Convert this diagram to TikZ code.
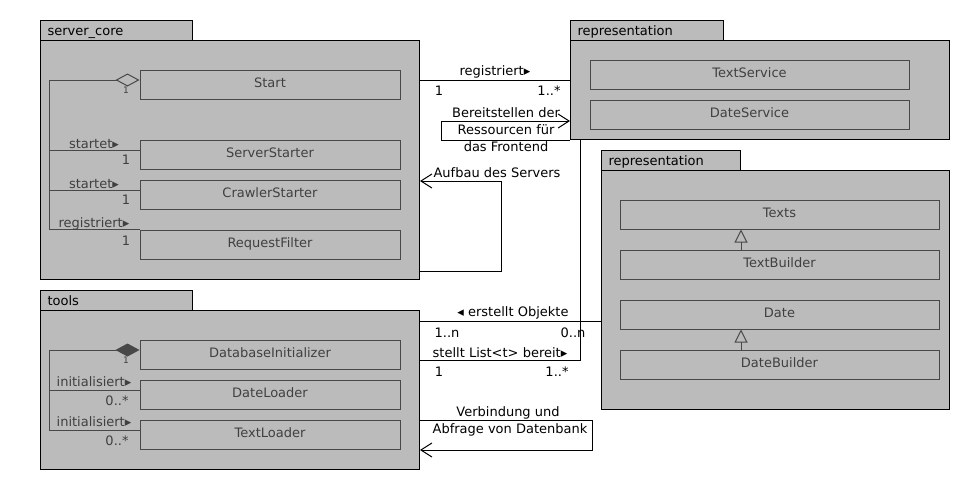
\documentclass[tikz,border=0pt]{standalone}
\usepackage{fontspec}
\setmainfont{DejaVu Sans}
\usetikzlibrary{arrows.meta,calc}
\definecolor{pkgfill}{RGB}{187,187,187}
\definecolor{inline}{RGB}{72,72,72}
\definecolor{clstext}{RGB}{64,64,64}
\newcommand{\dfont}{\fontsize{13}{17}\selectfont}
\tikzset{
  lbl/.style={font=\dfont, inner sep=0pt, text=black},
  glbl/.style={font=\dfont, inner sep=0pt, text=clstext},
  pkgbody/.style={draw=black, fill=pkgfill, line width=1pt, anchor=north west, inner sep=0pt},
  pkgtab/.style={draw=black, fill=pkgfill, line width=1pt, anchor=north west, inner xsep=7pt,
    inner ysep=0pt, minimum height=20pt, text height=15pt, text depth=5pt, align=left,
    font=\dfont, text=black},
  cls/.style={draw=inline, fill=pkgfill, line width=1pt, minimum height=29pt, inner sep=0pt,
    text height=9.5pt, text depth=3pt, text=clstext, font=\dfont},
  conn/.style={draw=black, line width=1pt},
  inconn/.style={draw=inline, line width=1pt},
  openarr/.style={-{Straight Barb[length=11pt,width=14pt]}},
}
\begin{document}
\begin{tikzpicture}[x=1pt, y=-1pt]
\useasboundingbox (0,0) rectangle (970,490);

% ---------- packages ----------
\node[pkgtab, text width=138pt] (sctab) at (40,20) {server\_core};
\node[pkgbody, minimum width=379pt, minimum height=239pt] (scbody) at (40,40) {};

\node[pkgtab, text width=139pt] (repAtab) at (570,20) {representation};
\node[pkgbody, minimum width=379pt, minimum height=99pt] (repAbody) at (570,40) {};

\node[pkgtab, text width=125pt] (repBtab) at (601,150) {representation};
\node[pkgbody, minimum width=348pt, minimum height=239pt] (repBbody) at (601,170) {};

\node[pkgtab, text width=138pt] (tooltab) at (40,290) {tools};
\node[pkgbody, minimum width=379pt, minimum height=159pt] (toolsbody) at (40,310) {};

% ---------- classes ----------
\node[cls, minimum width=260pt] (Start) at (270,84.5) {Start};
\node[cls, minimum width=260pt] (ServerStarter) at (270,154.5) {ServerStarter};
\node[cls, minimum width=260pt] (CrawlerStarter) at (270,194.5) {CrawlerStarter};
\node[cls, minimum width=260pt] (RequestFilter) at (270,244.5) {RequestFilter};

\node[cls, minimum width=319pt] (TextService) at (749.5,74.5) {TextService};
\node[cls, minimum width=319pt] (DateService) at (749.5,114.5) {DateService};

\node[cls, minimum width=319pt] (Texts) at (779.5,214.5) {Texts};
\node[cls, minimum width=319pt] (TextBuilder) at (779.5,264.5) {TextBuilder};
\node[cls, minimum width=319pt] (Date) at (779.5,314.5) {Date};
\node[cls, minimum width=319pt] (DateBuilder) at (779.5,364.5) {DateBuilder};

\node[cls, minimum width=260pt] (DatabaseInitializer) at (270,354.5) {DatabaseInitializer};
\node[cls, minimum width=260pt] (DateLoader) at (270,394.5) {DateLoader};
\node[cls, minimum width=260pt] (TextLoader) at (270,434.5) {TextLoader};

% ---------- server_core internal ----------
\draw[inconn, {Diamond[open,length=24pt,width=13pt]}-] ([yshift=4.5pt]Start.west) -- ++(-90,0) |- (RequestFilter.north west);
\draw[inconn] ([yshift=4.5pt]ServerStarter.west) -- ++(-90,0);
\draw[inconn] ([yshift=4.5pt]CrawlerStarter.west) -- ++(-90,0);
\node[glbl, font=\fontsize{9}{10}\selectfont] (m0) at (126,90) {1};
\node[glbl] (l1) at (94,144) {startet▸};
\node[glbl] (m1) at (126,160) {1};
\node[glbl] (l2) at (94,184) {startet▸};
\node[glbl] (m2) at (126,200) {1};
\node[glbl] (l3) at (94,224) {registriert▸};
\node[glbl] (m3) at (126,241) {1};

% ---------- tools internal ----------
\draw[inconn, {Diamond[length=24pt,width=13pt]}-] ([yshift=4.5pt]DatabaseInitializer.west) -- ++(-90,0) |- ([yshift=4.5pt]TextLoader.west);
\draw[inconn] ([yshift=4.5pt]DateLoader.west) -- ++(-90,0);
\node[glbl, font=\fontsize{9}{10}\selectfont] (m4) at (126,360) {1};
\node[glbl] (l4) at (94,382) {initialisiert▸};
\node[glbl] (m5) at (117,401) {0..*};
\node[glbl] (l5) at (94,422) {initialisiert▸};
\node[glbl] (m6) at (117,441) {0..*};

% ---------- representation internal ----------
\draw[inconn, -{Triangle[open,length=13pt,width=13pt]}] ([xshift=-38.5pt]TextBuilder.north) -- ([xshift=-38.5pt]Texts.south);
\draw[inconn, -{Triangle[open,length=13pt,width=13pt]}] ([xshift=-38.5pt]DateBuilder.north) -- ([xshift=-38.5pt]Date.south);

% ---------- external connectors ----------
% registriert
\draw[conn] ([yshift=-40pt]scbody.north east) -- ([yshift=-40pt]repAbody.north west);
\node[lbl] (r1) at (495,72) {registriert▸};
\node[lbl] (r2) at (439,91) {1};
\node[lbl] (r3) at (549,91) {1..*};

% Bereitstellen der Ressourcen
\draw[conn, openarr] (repAbody.south west) -- ++(-129,0) |- ([yshift=19pt]repAbody.south west);
\node[lbl, align=center] (bt) at (506,130) {Bereitstellen der\\Ressourcen für\\das Frontend};

% Aufbau des Servers
\draw[conn, openarr] ([yshift=9pt]scbody.south east) -- ++(81,0) |- ([yshift=99pt]scbody.south east);
\node[lbl] (ab) at (497,173) {Aufbau des Servers};

% erstellt Objekte
\coordinate (eo) at ([yshift=-11pt]toolsbody.north east);
\draw[conn] (eo) -- (eo -| repBbody.west);
\node[lbl] (e1) at (513,313) {◂ erstellt Objekte};
\node[lbl] (e2) at (447,333) {1..n};
\node[lbl] (e3) at (573,333) {0..n};

% stellt List<t> bereit
\draw[conn] ([yshift=-50pt]toolsbody.north east) -| ([xshift=10pt]repAbody.south west);
\node[lbl] (s1) at (500,353) {stellt List<t> bereit▸};
\node[lbl] (s2) at (439,372) {1};
\node[lbl] (s3) at (557,372) {1..*};

% Verbindung und Abfrage von Datenbank
\draw[conn, openarr] ([yshift=-110pt]toolsbody.north east) -- ++(172,0) |- ([yshift=-140pt]toolsbody.north east);
\node[lbl] (v1) at (508,413) {Verbindung und};
\node[lbl] (v2) at (510,430) {Abfrage von Datenbank};
\end{tikzpicture}
\end{document}
